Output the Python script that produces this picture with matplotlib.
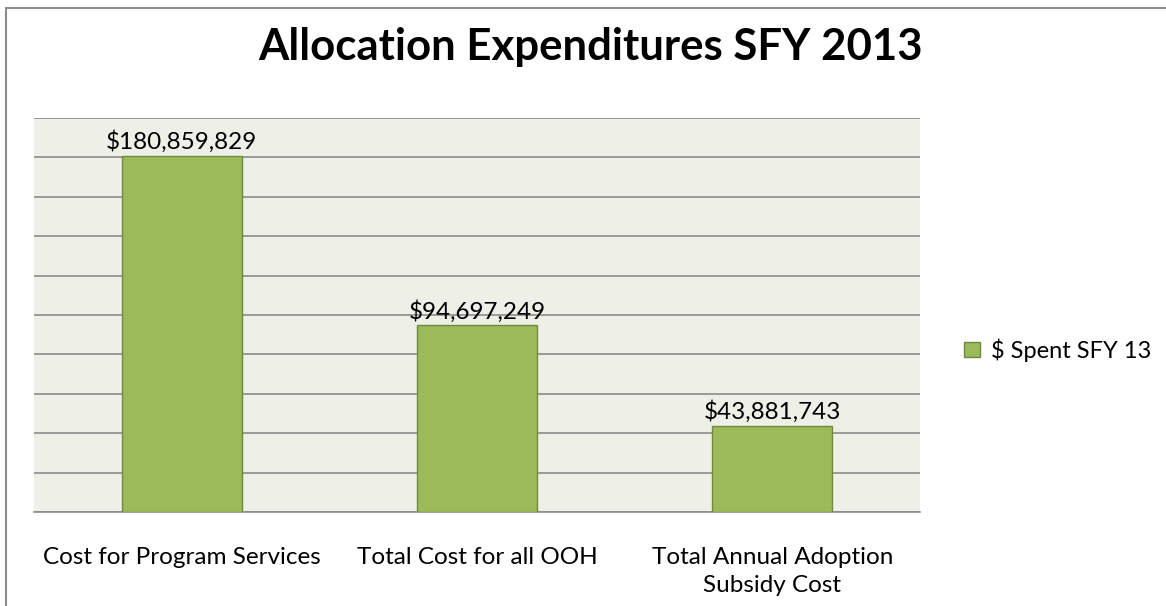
import matplotlib.pyplot as plt
from matplotlib.patches import Rectangle

categories = ['Cost for Program Services', 'Total Cost for all OOH',
              'Total Annual Adoption\nSubsidy Cost']
spent = [180859829, 94697249, 43881743]
series_name = '$ Spent SFY 13'

plt.rcParams['font.family'] = ['Lato', 'DejaVu Sans']

fig = plt.figure(figsize=(11.66, 6.06), dpi=100)
ax = fig.add_axes([34 / 1166, 1 - 512 / 606, 886 / 1166, 394 / 606])

# outer chart border (cut off at right/bottom in the original)
fig.patches.append(Rectangle((6 / 1166, -0.1), 1.2, 1 - 8 / 606 + 0.1,
                             transform=fig.transFigure, fill=False,
                             edgecolor='#8c8c8c', linewidth=1.5))

x = range(len(categories))
bars = ax.bar(x, spent, width=0.406, color='#9bbb59', edgecolor='#71893f',
              linewidth=1, label=series_name, zorder=3)

ax.set_facecolor('#eef0e8')
ax.set_xlim(-0.5, 2.5)
ax.set_ylim(0, 200000000)
ax.set_yticks(range(0, 200000001, 20000000))
ax.yaxis.grid(True, color='#8c8c8c', linewidth=1.2, zorder=0)
ax.tick_params(axis='y', left=False, labelleft=False)
ax.tick_params(axis='x', length=0, pad=25, labelsize=17.5)
ax.set_xticks(list(x))
ax.set_xticklabels(categories, linespacing=1.45)
for s in ['top', 'right', 'left']:
    ax.spines[s].set_visible(False)
ax.spines['bottom'].set_color('#8c8c8c')
ax.spines['bottom'].set_linewidth(1.2)

for b, v in zip(bars, spent):
    ax.text(b.get_x() + b.get_width() / 2, v + 1200000, '${:,}'.format(v),
            ha='center', va='bottom', fontsize=17.5)

fig.text(590 / 1166, 1 - 47 / 606, 'Allocation Expenditures SFY 2013',
         ha='center', va='center', fontsize=31.5, fontweight='bold')

fig.legend(loc='center left', bbox_to_anchor=(943 / 1166, 1 - 350 / 606),
           frameon=False, fontsize=17, handlelength=0.65, handleheight=0.65,
           handletextpad=0.5)

fig.savefig('out.png', dpi=100)
